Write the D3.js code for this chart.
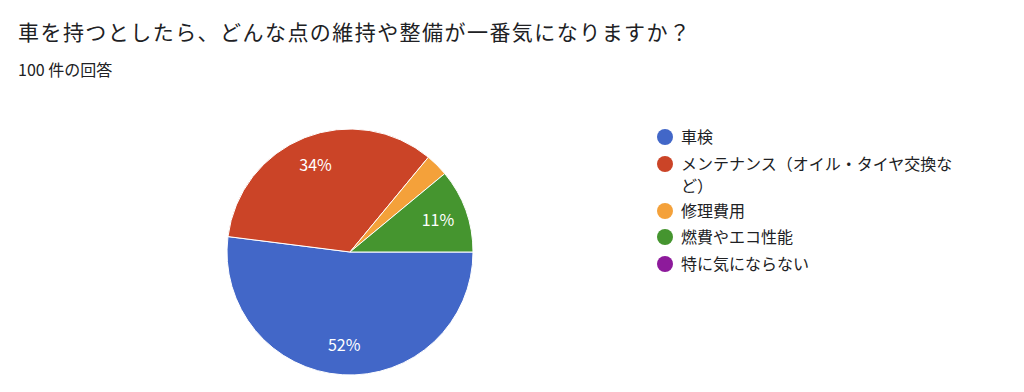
<!DOCTYPE html>
<html>
<head>
<meta charset="utf-8">
<script src="https://cdn.jsdelivr.net/npm/d3@7"></script>
<style>
  body { margin: 0; background: #fff; }
  text { font-family: "Noto Sans CJK JP", "Noto Sans", sans-serif; }
</style>
</head>
<body>
<div id="chart"></div>
<script>
const width = 1024;
const height = 392;

// data
const title = "車を持つとしたら、どんな点の維持や整備が一番気になりますか？";
const subtitle = "100 件の回答";
const categories = ["車検", "メンテナンス（オイル・タイヤ交換など）", "修理費用", "燃費やエコ性能", "特に気にならない"];
const values = [52, 34, 3, 11, 0];
const colorList = ["#4267c8", "#cb4427", "#f4a13a", "#45952f", "#8d1a9b"];
// legend lines (long label wraps)
const legendLines = [["車検"], ["メンテナンス（オイル・タイヤ交換な", "ど）"], ["修理費用"], ["燃費やエコ性能"], ["特に気にならない"]];

const svg = d3.select('#chart').append('svg')
  .attr('width', width)
  .attr('height', height);

svg.append('text')
  .attr('x', 18).attr('y', 40)
  .attr('fill', '#202124')
  .style('font-size', '21px')
  .attr('textLength', 672)
  .attr('lengthAdjust', 'spacing')
  .text(title);

svg.append('text')
  .attr('x', 18).attr('y', 76)
  .attr('fill', '#202124')
  .style('font-size', '16px')
  .text(subtitle);

const color = d3.scaleOrdinal().domain(categories).range(colorList);

// pie starts at 3 o'clock, clockwise
const pie = d3.pie().sort(null).value(d => d.value)
  .startAngle(Math.PI / 2).endAngle(Math.PI / 2 + 2 * Math.PI);
const data = categories.map((c, i) => ({ name: c, value: values[i] }));
const radius = 123;
const arc = d3.arc().innerRadius(0).outerRadius(radius);
const labelArc = d3.arc().innerRadius(radius * 0.76).outerRadius(radius * 0.76);

const g = svg.append('g').attr('transform', 'translate(350,252)');
const arcs = pie(data);

g.selectAll('path')
  .data(arcs.filter(d => d.value > 0))
  .enter().append('path')
  .attr('d', arc)
  .attr('fill', d => color(d.data.name))
  .attr('stroke', '#fff')
  .attr('stroke-width', 1);

const total = d3.sum(values);
g.selectAll('text.pct')
  .data(arcs.filter(d => d.value / total >= 0.05))
  .enter().append('text')
  .attr('class', 'pct')
  .attr('transform', d => {
    const [x, y] = labelArc.centroid(d);
    return `translate(${x},${y})`;
  })
  .attr('text-anchor', 'middle')
  .attr('dy', '0.35em')
  .attr('fill', '#fff')
  .style('font-size', '16px')
  .text(d => Math.round(d.value / total * 100) + '%');

// legend
const legendY = [137, 164, 211, 237, 264];
const legend = svg.append('g');
const item = legend.selectAll('g.item')
  .data(categories)
  .enter().append('g')
  .attr('class', 'item')
  .attr('transform', (d, i) => `translate(665,${legendY[i]})`);

item.append('circle')
  .attr('r', 8)
  .attr('fill', d => color(d));

item.append('text')
  .attr('x', 16)
  .attr('fill', '#202124')
  .style('font-size', '16px')
  .selectAll('tspan')
  .data((d, i) => legendLines[i])
  .enter().append('tspan')
  .attr('x', 16)
  .attr('y', (d, j) => j * 22)
  .attr('dy', '0.35em')
  .text(d => d);
</script>
</body>
</html>
